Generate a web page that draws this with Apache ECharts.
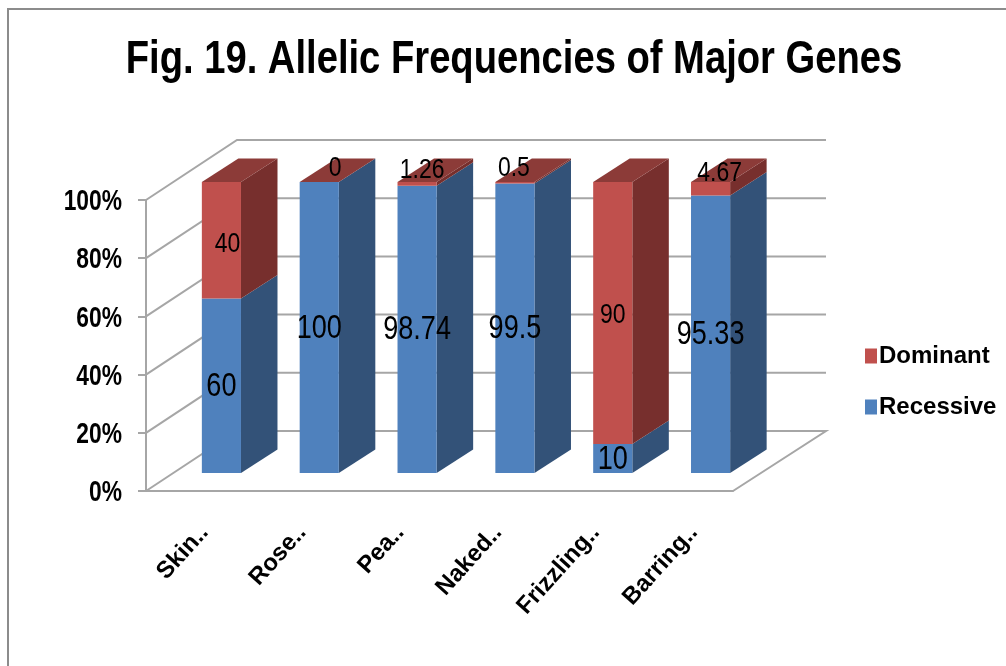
<!DOCTYPE html>
<html>
<head>
<meta charset="utf-8">
<title>Allelic Frequencies of Major Genes</title>
<script src="https://cdn.jsdelivr.net/npm/echarts@6/dist/echarts.min.js"></script>
<style>
  html, body { margin: 0; padding: 0; background: #fff; }
  #chart { width: 1006px; height: 666px; }
</style>
</head>
<body>
<div id="chart"></div>
<script>
// Genes and their allele percentages
const categories = ['Skin..', 'Rose..', 'Pea..', 'Naked..', 'Frizzling..', 'Barring..'];
const recessive = [60, 100, 98.74, 99.5, 10, 95.33];
const dominant = [40, 0, 1.26, 0.5, 90, 4.67];
const tickValues = [0, 20, 40, 60, 80, 100];
const chartTitle = 'Fig. 19. Allelic Frequencies of Major Genes';

// Small hand placements of the dominant labels, in pixels from the face centre
const dominantLabelNudge = [[6, 3], [16, -15], [5, -15], [-1, -15], [0, 1], [9, -17]];

// Oblique projection of the 3D box
const WALL_DEPTH = [91, -60];
const BAR_INSET = [27.5, -18];
const BAR_DEPTH = [36.5, -23.5];
const BAR_RATIO = 0.4;

const BLUE = { front: '#4f81bd', side: '#335278', top: '#3f6797' };
const RED = { front: '#c0504d', side: '#772f2d', top: '#8c3b38' };
const GREY = '#a6a6a6';
const SANS = '"Liberation Sans", Arial, sans-serif';

// Text squeezed horizontally, since the chart uses a condensed look throughout
function squeezedText(x, y, text, font, align, scaleX) {
  return {
    type: 'text',
    x: x,
    y: y,
    scaleX: scaleX,
    z2: 20,
    style: { x: 0, y: 0, text: text, font: font, align: align, verticalAlign: 'middle', fill: '#000' }
  };
}

function wallItem(params, api) {
  const cs = params.coordSys;
  const y = api.coord([0, api.value(1)])[1];
  const left = cs.x, right = cs.x + cs.width;
  const [dx, dy] = WALL_DEPTH;
  const pts = [[left, y], [left + dx, y + dy], [right + dx + 2, y + dy]];
  if (api.value(1) === 0) pts.push([right, y]);
  return {
    type: 'polyline',
    shape: { points: pts },
    style: { stroke: GREY, lineWidth: 2, fill: null }
  };
}

function tickLabelItem(params, api) {
  const v = api.value(1);
  const y = api.coord([0, v])[1];
  return squeezedText(params.coordSys.x - 24, y + 2, v + '%', 'bold 30px ' + SANS, 'right', 0.76);
}

function polygon(points, fill, z2) {
  return { type: 'polygon', z2: z2, shape: { points: points }, style: { fill: fill } };
}

// One stacked segment: front face, side face, and a lid when it closes the stack
function segmentItem(colors, lid, labelFont, nudges) {
  return function (params, api) {
    const i = api.value(0);
    const base = api.value(1);
    const value = api.value(2);
    const band = api.size([1, 0])[0];
    const w = band * BAR_RATIO;
    const [ix, iy] = BAR_INSET;
    const [dx, dy] = BAR_DEPTH;
    const low = api.coord([i, base]);
    const high = api.coord([i, base + value]);
    const x0 = low[0] - w / 2 + ix - 1;
    const x1 = x0 + w;
    const yb = low[1] + iy;
    const yt = high[1] + iy;
    const children = [
      polygon([[x1, yb], [x1 + dx, yb + dy], [x1 + dx, yt + dy], [x1, yt]], colors.side, 1),
      polygon([[x0, yb], [x1, yb], [x1, yt], [x0, yt]], colors.front, 2)
    ];
    if (lid) {
      children.push(polygon([[x0, yt], [x1, yt], [x1 + dx, yt + dy], [x0 + dx, yt + dy]], colors.top, 1));
    }
    const nudge = nudges ? nudges[i] : [0, 0];
    children.push(squeezedText(
      (x0 + x1) / 2 + nudge[0], (yb + yt) / 2 + nudge[1] + 1,
      String(value), labelFont, 'center', 0.82
    ));
    return { type: 'group', children: children };
  };
}

const chart = echarts.init(document.getElementById('chart'), null, { renderer: 'canvas' });

const axisStyle = { color: GREY, width: 2 };

chart.setOption({
  animation: false,
  backgroundColor: '#fff',
  legend: {
    orient: 'vertical',
    left: 860,
    top: 339,
    itemWidth: 12,
    itemHeight: 15,
    itemGap: 27,
    icon: 'rect',
    data: ['Dominant', 'Recessive'],
    textStyle: { color: '#000', fontFamily: SANS, fontWeight: 'bold', fontSize: 24, padding: [0, 0, 0, -3] }
  },
  grid: { left: 146, right: 273, top: 200, bottom: 175 },
  xAxis: {
    type: 'category',
    data: categories,
    axisLine: { lineStyle: axisStyle },
    axisTick: { length: 8, lineStyle: axisStyle },
    axisLabel: {
      color: '#000',
      fontFamily: SANS,
      fontWeight: 'bold',
      fontSize: 24,
      rotate: 48,
      margin: 48,
      interval: 0,
      padding: [0, -14, 0, 0]
    },
    splitLine: { show: false }
  },
  yAxis: {
    type: 'value',
    min: 0,
    max: 100,
    interval: 20,
    axisLine: { show: true, lineStyle: axisStyle },
    axisTick: { show: true, length: 8, lineStyle: axisStyle },
    axisLabel: { show: false },
    splitLine: { show: false }
  },
  series: [
    {
      name: 'walls',
      type: 'custom',
      z: 1,
      silent: true,
      clip: false,
      renderItem: wallItem,
      encode: { x: 0, y: 1 },
      data: tickValues.map(v => [0, v])
    },
    {
      name: 'tick labels',
      type: 'custom',
      z: 2,
      silent: true,
      clip: false,
      renderItem: tickLabelItem,
      encode: { x: 0, y: 1 },
      data: tickValues.map(v => [0, v])
    },
    {
      name: 'Recessive',
      type: 'custom',
      z: 3,
      clip: false,
      itemStyle: { color: BLUE.front },
      renderItem: segmentItem(BLUE, false, '33px ' + SANS, null),
      encode: { x: 0, y: 2 },
      data: categories.map((c, i) => [i, 0, recessive[i]])
    },
    {
      name: 'Dominant',
      type: 'custom',
      z: 4,
      clip: false,
      itemStyle: { color: RED.front },
      renderItem: segmentItem(RED, true, '28px ' + SANS, dominantLabelNudge),
      encode: { x: 0, y: 2 },
      data: categories.map((c, i) => [i, recessive[i], dominant[i]])
    }
  ],
  graphic: [
    {
      // Chart-area frame; its right and bottom edges run off the page
      type: 'rect',
      silent: true,
      z: -1,
      shape: { x: 8, y: 9, width: 1100, height: 800 },
      style: { fill: null, stroke: '#8c8c8c', lineWidth: 2 }
    },
    {
      type: 'text',
      x: 514,
      y: 60,
      scaleX: 0.83,
      silent: true,
      style: {
        x: 0,
        y: 0,
        text: chartTitle,
        align: 'center',
        verticalAlign: 'middle',
        fill: '#000',
        font: 'bold 46px ' + SANS
      }
    }
  ]
});
</script>
</body>
</html>
